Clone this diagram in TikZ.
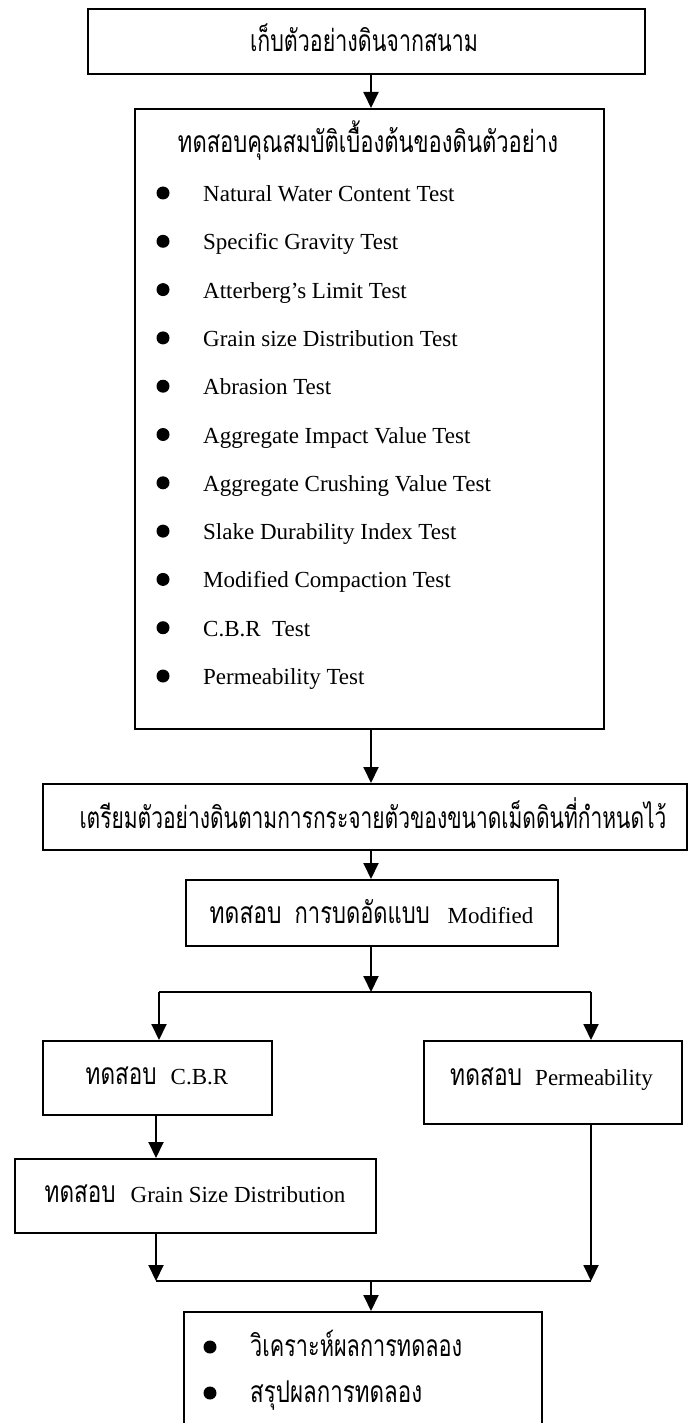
\documentclass[tikz,border=0pt]{standalone}
\usepackage{fontspec}
\usepackage{graphicx}
\setmainfont{Liberation Serif}
\newfontfamily\thaifont[Script=Thai]{Loma}
\usetikzlibrary{arrows.meta}
\newcommand{\thw}[2]{\resizebox{#1pt}{\height}{\fontsize{30}{34}\selectfont\thaifont #2}}
\begin{document}
\begin{tikzpicture}[x=1pt,y=-1pt,
  font=\fontsize{23}{27}\selectfont,
  box/.style={draw,line width=1.9pt,rectangle,inner sep=0pt,anchor=north west},
  txt/.style={inner sep=0pt,anchor=base},
  itm/.style={inner sep=0pt,anchor=base west},
  dot/.style={circle,fill,inner sep=0pt,minimum size=13pt},
  ln/.style={line width=1.9pt},
  arr/.style={line width=1.9pt,-{Triangle[length=16pt,width=15pt]}}]
\useasboundingbox (0,0) rectangle (696,1423);
\clip (0,0) rectangle (696,1423);
% boxes
\node[box,minimum width=557pt,minimum height=65pt] (n1) at (87,8) {};
\node[box,minimum width=469pt,minimum height=620pt] (n2) at (134,108) {};
\node[box,minimum width=644pt,minimum height=66pt] (n3) at (42,783) {};
\node[box,minimum width=372pt,minimum height=66pt] (n4) at (185,879) {};
\node[box,minimum width=229pt,minimum height=74pt] (n5) at (42,1040) {};
\node[box,minimum width=258pt,minimum height=83pt] (n6) at (423,1040) {};
\node[box,minimum width=361pt,minimum height=74pt] (n7) at (14,1158) {};
\node[box,minimum width=358pt,minimum height=160pt] (n8) at (183,1311) {};
% texts
\node[txt] (t1) at (364,52) {\thw{228}{เก็บตัวอย่างดินจากสนาม}};
\node[txt] (t2) at (368,153) {\thw{380}{ทดสอบคุณสมบัติเบื้องต้นของดินตัวอย่าง}};
\foreach \i/\s in {1/Natural Water Content Test,
                   2/Specific Gravity Test,
                   3/Atterberg’s Limit Test,
                   4/Grain size Distribution Test,
                   5/Abrasion Test,
                   6/Aggregate Impact Value Test,
                   7/Aggregate Crushing Value Test,
                   8/Slake Durability Index Test,
                   9/Modified Compaction Test,
                   10/C.B.R\ \ Test,
                   11/Permeability Test}{
  \node[dot] (d\i) at (163,{193+48.3*(\i-1)}) {};
  \node[itm] (i\i) at (203,{201.5+48.3*(\i-1)}) {\s};
}
\node[txt] (t3) at (373,828) {\thw{587}{เตรียมตัวอย่างดินตามการกระจายตัวของขนาดเม็ดดินที่กำหนดไว้}};
\node[txt] (t4) at (371.5,923) {\thw{72}{ทดสอบ}\hspace{13pt}\thw{135}{การบดอัดแบบ}\hspace{18pt}Modified};
\node[txt] (t5) at (157,1084) {\thw{71}{ทดสอบ}\hspace{14pt}C.B.R};
\node[txt] (t6) at (551.5,1085) {\thw{72}{ทดสอบ}\hspace{13pt}Permeability};
\node[txt] (t7) at (195,1202) {\thw{71}{ทดสอบ}\hspace{15pt}Grain Size Distribution};
\node[dot] (e1) at (210,1347) {};
\node[dot] (e2) at (210,1393) {};
\node[itm] (u1) at (250,1356) {\thw{212}{วิเคราะห์ผลการทดลอง}};
\node[itm] (u2) at (250,1402) {\thw{172}{สรุปผลการทดลอง}};
% connector points
\coordinate (cx) at (371,0);
\coordinate (gx) at (156,0);
\coordinate (split) at (371,992);
\coordinate (splitL) at (159,992);
\coordinate (splitR) at (591,992);
\coordinate (merge) at (371,1281);
\coordinate (mergeL) at (156,1281);
\coordinate (mergeR) at (591,1281);
% connectors
\draw[arr] (n1.south -| cx) -- (n2.north -| cx);
\draw[arr] (n2.south -| cx) -- (n3.north -| cx);
\draw[arr] (n3.south -| cx) -- (n4.north -| cx);
\draw[arr] (n4.south -| cx) -- (split);
\draw[ln] (splitL) -- (splitR);
\draw[arr] (splitL) -- (splitL |- n5.north);
\draw[arr] (splitR) -- (splitR |- n6.north);
\draw[arr] (n5.south -| gx) -- (n7.north -| gx);
\draw[arr] (n7.south -| gx) -- (mergeL);
\draw[arr] (n6.south -| splitR) -- (mergeR);
\draw[ln] (mergeL) -- (mergeR);
\draw[arr] (merge) -- (n8.north -| cx);
\end{tikzpicture}
\end{document}
